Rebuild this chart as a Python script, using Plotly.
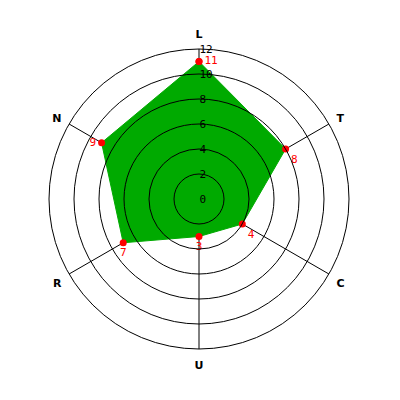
import plotly.graph_objects as go

categories = ["L", "T", "C", "U", "R", "N"]
values = [11, 8, 4, 3, 7, 9]
label_positions = ["middle right", "bottom right", "bottom right", "bottom center", "bottom center", "middle left"]
radial_ticks = [0, 2, 4, 6, 8, 10, 12]

fig = go.Figure()
fig.add_trace(go.Scatterpolar(
    r=values + [values[0]],
    theta=categories + [categories[0]],
    mode="lines+markers+text",
    fill="toself",
    fillcolor="#00AA00",
    line=dict(color="#00AA00", width=1),
    marker=dict(color="#FF0000", size=7),
    text=[str(v) for v in values] + [""],
    textposition=label_positions + ["middle right"],
    textfont=dict(color="#FF0000", size=11, family="DejaVu Sans Mono"),
    hoverinfo="skip",
    showlegend=False,
    subplot="polar",
))
# invisible trace so the overlay polar (circles drawn above the fill) renders
fig.add_trace(go.Scatterpolar(
    r=[0], theta=[0], mode="markers",
    marker=dict(size=1, color="rgba(0,0,0,0)"),
    hoverinfo="skip", showlegend=False, subplot="polar2",
))

dom = dict(x=[0, 1], y=[0, 1])
fig.update_layout(
    width=400, height=400,
    margin=dict(l=41, r=59, t=41, b=59, autoexpand=False),
    paper_bgcolor="white",
    plot_bgcolor="white",
    polar=dict(
        bgcolor="white",
        domain=dom,
        angularaxis=dict(
            rotation=90,
            direction="clockwise",
            showline=True,
            linecolor="black",
            linewidth=1,
            gridcolor="black",
            gridwidth=1,
            ticks="outside",
            ticklen=6,
            tickcolor="rgba(0,0,0,0)",
            tickfont=dict(family="DejaVu Sans", size=11, color="black", weight="bold"),
        ),
        radialaxis=dict(
            range=[0, 12],
            tickvals=radial_ticks,
            showticklabels=False,
            showline=False,
            showgrid=False,
            ticks="",
        ),
    ),
    polar2=dict(
        bgcolor="rgba(0,0,0,0)",
        domain=dom,
        angularaxis=dict(
            rotation=90,
            direction="clockwise",
            showline=False,
            showgrid=False,
            showticklabels=False,
            ticks="",
        ),
        radialaxis=dict(
            range=[0, 12],
            tickvals=radial_ticks,
            ticktext=[str(t) for t in radial_ticks],
            angle=90,
            tickangle=90,
            side="clockwise",
            showline=False,
            gridcolor="black",
            gridwidth=1,
            ticks="",
            tickfont=dict(family="DejaVu Sans Mono", size=11, color="black"),
        ),
    ),
)

fig.write_html("out.html")
